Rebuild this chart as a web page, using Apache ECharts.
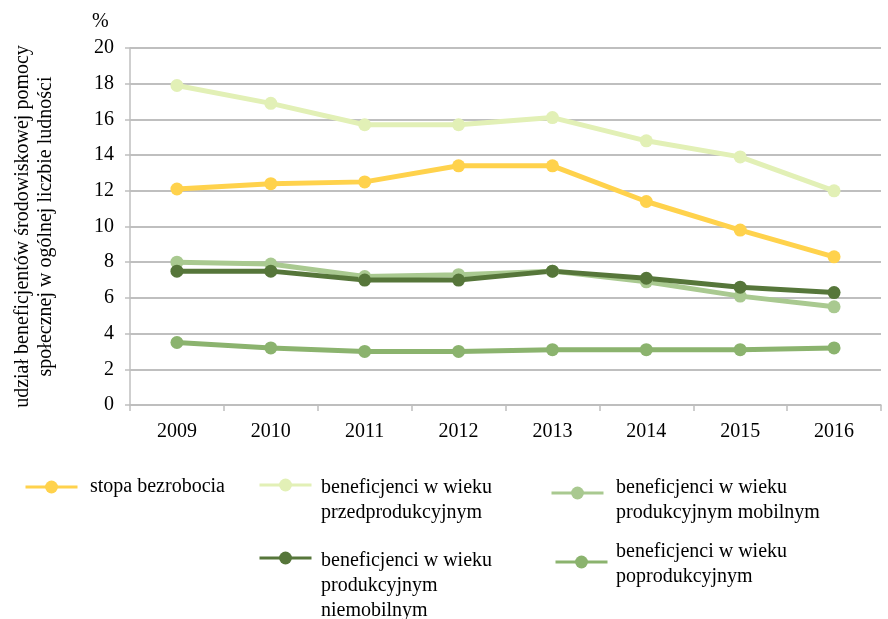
<!DOCTYPE html>
<html>
<head>
<meta charset="utf-8">
<script src="https://cdn.jsdelivr.net/npm/echarts@6/dist/echarts.min.js"></script>
<style>
  html, body { margin: 0; padding: 0; background: #fff; }
  #chart { width: 888px; height: 619px; }
</style>
</head>
<body>
<div id="chart"></div>
<script>
// lata
const years = ['2009', '2010', '2011', '2012', '2013', '2014', '2015', '2016'];

// wartości w %
const stopaBezrobocia = [12.1, 12.4, 12.5, 13.4, 13.4, 11.4, 9.8, 8.3];
const przedprodukcyjny = [17.9, 16.9, 15.7, 15.7, 16.1, 14.8, 13.9, 12.0];
const produkcyjnyMobilny = [8.0, 7.9, 7.2, 7.3, 7.5, 6.9, 6.1, 5.5];
const produkcyjnyNiemobilny = [7.5, 7.5, 7.0, 7.0, 7.5, 7.1, 6.6, 6.3];
const poprodukcyjny = [3.5, 3.2, 3.0, 3.0, 3.1, 3.1, 3.1, 3.2];

const names = [
  'stopa bezrobocia',
  'beneficjenci w wieku\nprzedprodukcyjnym',
  'beneficjenci w wieku\nprodukcyjnym mobilnym',
  'beneficjenci w wieku\nprodukcyjnym\nniemobilnym',
  'beneficjenci w wieku\npoprodukcyjnym'
];
const colors = ['#FFD24C', '#E2F0B6', '#A9C990', '#56763A', '#8BB36E'];
const values = [stopaBezrobocia, przedprodukcyjny, produkcyjnyMobilny, produkcyjnyNiemobilny, poprodukcyjny];

const font = 'Liberation Serif';

// legenda jak w Excelu: osobno ikona i osobno tekst
const iconPos = [
  { left: 24, top: 479 },
  { left: 258, top: 477 },
  { left: 550, top: 485 },
  { left: 258, top: 550 },
  { left: 554, top: 554 }
];
const textPos = [
  { left: 85, top: 474 },
  { left: 316, top: 475 },
  { left: 611, top: 475 },
  { left: 316, top: 548 },
  { left: 611, top: 539 }
];

const iconLegends = iconPos.map((p, i) => ({
  data: [names[i]],
  left: p.left,
  top: p.top,
  padding: 0,
  itemWidth: 52,
  itemHeight: 16,
  lineStyle: { width: 3 },
  formatter: () => ''
}));
const textLegends = textPos.map((p, i) => ({
  data: [{ name: names[i], icon: 'none' }],
  left: p.left,
  top: p.top,
  padding: 0,
  itemWidth: 0,
  itemHeight: 10,
  textStyle: { fontFamily: font, fontSize: 20, color: '#000', lineHeight: 25 }
}));

const chart = echarts.init(document.getElementById('chart'));

chart.setOption({
  animation: false,
  color: colors,
  textStyle: { fontFamily: font, color: '#000' },
  title: {
    text: '%',
    left: 87,
    top: 7,
    textStyle: { fontFamily: font, fontSize: 20, fontWeight: 'normal', color: '#000' }
  },
  legend: iconLegends.concat(textLegends),
  grid: {
    left: 130,
    right: 7,
    top: 48,
    bottom: 214
  },
  xAxis: {
    type: 'category',
    data: years,
    boundaryGap: true,
    axisLine: { lineStyle: { color: '#BFBFBF', width: 1.5 } },
    axisTick: { show: true, length: 6, lineStyle: { color: '#BFBFBF', width: 1.5 } },
    axisLabel: { fontFamily: font, fontSize: 20, color: '#000', margin: 17 }
  },
  yAxis: {
    type: 'value',
    min: 0,
    max: 20,
    interval: 2,
    name: 'udział beneficjentów środowiskowej pomocy\nspołecznej w ogólnej liczbie ludności',
    nameLocation: 'middle',
    nameGap: 73,
    nameTextStyle: { fontFamily: font, fontSize: 20, color: '#000', lineHeight: 23 },
    axisLine: { show: true, lineStyle: { color: '#BFBFBF', width: 1.5 } },
    axisTick: { show: true, length: 5, lineStyle: { color: '#BFBFBF', width: 1.5 } },
    axisLabel: { fontFamily: font, fontSize: 20, color: '#000', margin: 16 },
    splitLine: { lineStyle: { color: '#BFBFBF', width: 2 } }
  },
  series: values.map((v, i) => ({
    name: names[i],
    type: 'line',
    data: v,
    symbol: 'circle',
    symbolSize: 13,
    lineStyle: { width: 5, color: colors[i] },
    itemStyle: { color: colors[i] }
  }))
});
</script>
</body>
</html>
